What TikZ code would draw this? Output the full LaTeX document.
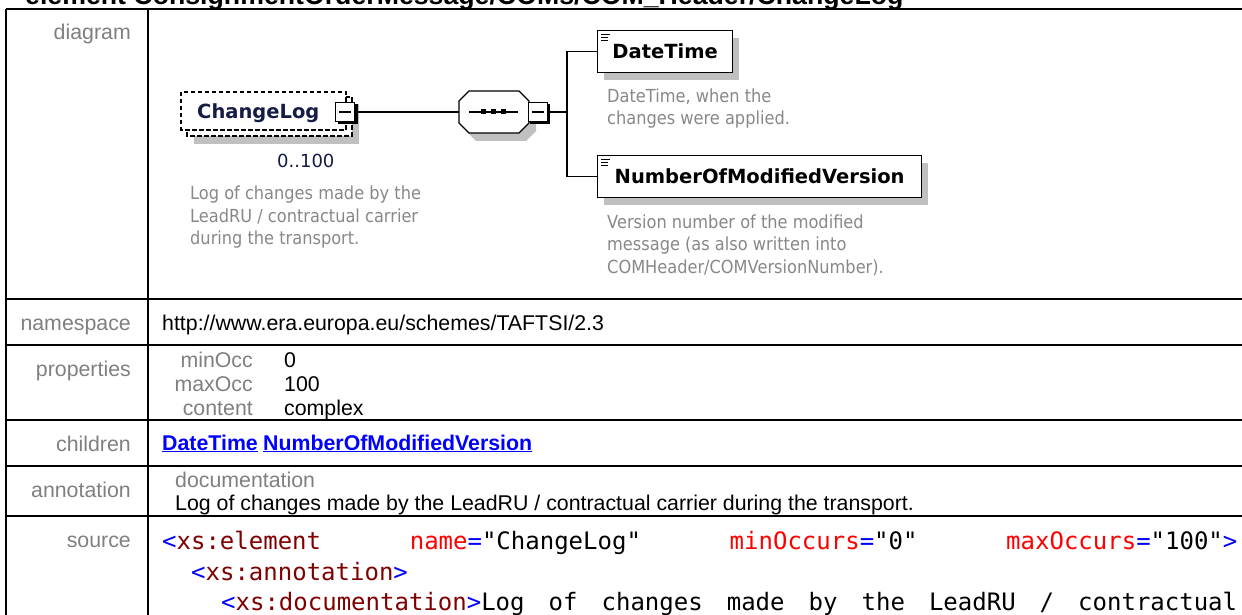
\documentclass[tikz,border=0pt]{standalone}
\usepackage{fontspec}
\setmainfont{Liberation Sans}
\newfontfamily\diagfont{DejaVu Sans}
\newfontfamily\descfont{DejaVu Sans}[FakeStretch=0.9]
\newfontfamily\codefont{DejaVu Sans Mono}
\usetikzlibrary{calc}
\definecolor{labelgray}{RGB}{128,128,128}
\definecolor{descgray}{RGB}{136,136,136}
\definecolor{shadowgray}{RGB}{192,192,192}
\definecolor{elemred}{RGB}{128,0,0}
\definecolor{attrred}{RGB}{255,0,0}
\definecolor{codeblue}{RGB}{0,0,255}
\definecolor{navyname}{RGB}{20,28,70}
\tikzset{
  tableline/.style={line width=2pt, black},
  rowlabel/.style={anchor=base east, inner sep=0pt, text=labelgray, font=\fontsize{21.33}{24}\selectfont},
  rowtext/.style={anchor=base west, inner sep=0pt, text=black, font=\fontsize{21.33}{24}\selectfont},
  linktext/.style={anchor=base west, inner sep=0pt, text=codeblue, font=\bfseries\fontsize{21.33}{24}\selectfont},
  codetext/.style={anchor=base west, inner sep=0pt, font=\codefont\fontsize{24}{28}\selectfont},
  desctext/.style={anchor=base west, inner sep=0pt, text=descgray, font=\descfont\fontsize{18}{22}\selectfont},
  elembox/.style={draw=black, line width=1.3pt, fill=white, anchor=north west, inner sep=0pt, text height=14pt, text depth=0pt, font=\diagfont\bfseries\fontsize{19.5}{23}\selectfont},
  minusbox/.style={draw=black, line width=1pt, fill=white, minimum size=19pt, inner sep=0pt},
  connector/.style={line width=1.3pt, black},
  dashedbox/.style={draw=black, line width=1.3pt, fill=white, dash pattern=on 4.5pt off 2.5pt},
  shadowfill/.style={fill=shadowgray, draw=none},
}
\begin{document}
\begin{tikzpicture}[x=1pt,y=-1pt]
\useasboundingbox (0,0) rectangle (1242,615);
\clip (0,0) rectangle (1242,615);
\fill[white] (0,0) rectangle (1242,615);

% heading (mostly cut off at the top)
\node[anchor=base west, inner sep=0pt, font=\bfseries\fontsize{26.7}{30}\selectfont] (heading) at (25,5) {element ConsignmentOrderMessage/COMs/COM\_Header/ChangeLog};

% table grid
\draw[tableline] (5.5,9.5) -- (1250,9.5);
\foreach \yy in {299,345,420,466,516} \draw[tableline] (5.5,\yy) -- (1250,\yy);
\draw[tableline] (5.5,9.5) -- (5.5,620);
\draw[tableline] (147.5,9.5) -- (147.5,620);

% row labels
\node[rowlabel] (ldiagram) at (131,40) {diagram};
\node[rowlabel] (lnamespace) at (131,330) {namespace};
\node[rowlabel] (lproperties) at (131,376) {properties};
\node[rowlabel] (lchildren) at (131,451) {children};
\node[rowlabel] (lannotation) at (131,497) {annotation};
\node[rowlabel] (lsource) at (131,547) {source};

% namespace
\node[rowtext] (nsval) at (162,330) {http://www.era.europa.eu/schemes/TAFTSI/2.3};

% properties
\node[rowlabel] (pk1) at (253,367) {minOcc};
\node[rowlabel] (pk2) at (253,391) {maxOcc};
\node[rowlabel] (pk3) at (253,415) {content};
\node[rowtext] (pv1) at (284,367) {0};
\node[rowtext] (pv2) at (284,391) {100};
\node[rowtext] (pv3) at (284,415) {complex};

% children
\node[linktext] (ch1) at (162,450) {\underline{DateTime}};
\node[linktext] (ch2) at (263,450) {\underline{NumberOfModifiedVersion}};

% annotation
\node[rowlabel, anchor=base west] (anndoc) at (175,487) {documentation};
\node[rowtext] (anntext) at (175,510) {Log of changes made by the LeadRU / contractual carrier during the transport.};

% source
\node[codetext] (s1a) at (162,549) {\textcolor{codeblue}{<}\textcolor{elemred}{xs:element}};
\node[codetext] (s1b) at (409.6,549) {\textcolor{attrred}{name}\textcolor{codeblue}{=}"ChangeLog"};
\node[codetext] (s1c) at (729.5,549) {\textcolor{attrred}{minOccurs}\textcolor{codeblue}{=}"0"};
\node[codetext] (s1d) at (1006,549) {\textcolor{attrred}{maxOccurs}\textcolor{codeblue}{=}"100"\textcolor{codeblue}{>}};
\node[codetext] (s2) at (191,580) {\textcolor{codeblue}{<}\textcolor{elemred}{xs:annotation}\textcolor{codeblue}{>}};
\node[codetext] (s3a) at (221,610) {\textcolor{codeblue}{<}\textcolor{elemred}{xs:documentation}\textcolor{codeblue}{>}Log};
\node[codetext] (s3b) at (548.5,610) {of};
\node[codetext] (s3c) at (601.4,610) {changes};
\node[codetext] (s3d) at (726.6,610) {made};
\node[codetext] (s3e) at (808.5,610) {by};
\node[codetext] (s3f) at (861.4,610) {the};
\node[codetext] (s3g) at (928.8,610) {LeadRU};
\node[codetext] (s3h) at (1039.5,610) {/};
\node[codetext] (s3i) at (1078,610) {contractual};

% ---------------- diagram ----------------
% ChangeLog element (optional, repeating)
\fill[shadowfill] (194,104) rectangle (359,144);
\draw[dashedbox] (187,97) rectangle (352,136);
\draw[dashedbox] (181,92) rectangle (346,130);
\node[inner sep=0pt, anchor=base west, text=navyname, font=\diagfont\bfseries\fontsize{19.5}{23}\selectfont] (clog) at (197,119) {ChangeLog};
\node[minusbox] (clogm) at (345,112) {};
\draw[line width=2.5pt] ($(clogm.north east)+(1.25,2.5)$) -- ($(clogm.south east)+(1.25,1.25)$) -- ($(clogm.south west)+(2.5,1.25)$);
\draw[line width=1.2pt] ($(clogm.west)+(4,0)$) -- ($(clogm.east)+(-4,0)$);
\node[inner sep=0pt, anchor=base west, text=navyname, font=\diagfont\fontsize{18}{22}\selectfont] (clogocc) at (277,167.5) {0..100};
\node[desctext] (clogd1) at (190,199) {Log of changes made by the};
\node[desctext] (clogd2) at (190,222) {LeadRU / contractual carrier};
\node[desctext] (clogd3) at (190,244) {during the transport.};

% sequence compositor
\fill[shadowfill] (476,99) -- (526,99) -- (536,109) -- (536,131) -- (526,141) -- (476,141) -- (466,131) -- (466,109) -- cycle;
\draw[line width=1.3pt, fill=white] (469,91) -- (519,91) -- (529,101) -- (529,123) -- (519,133) -- (469,133) -- (459,123) -- (459,101) -- cycle;
\node[minimum width=70pt, minimum height=42pt, inner sep=0pt] (seq) at (494,112) {};
\draw[line width=1.3pt] (469,112) -- (518,112);
\foreach \xx in {483,493,503} \fill (\xx-2.5,109.5) rectangle (\xx+2.5,114.5);
\node[minusbox] (seqm) at (537.5,112) {};
\draw[line width=2.5pt] ($(seqm.north east)+(1.25,2.5)$) -- ($(seqm.south east)+(1.25,1.25)$) -- ($(seqm.south west)+(2.5,1.25)$);
\draw[line width=1.2pt] ($(seqm.west)+(4,0)$) -- ($(seqm.east)+(-4,0)$);

% child elements
\fill[shadowfill] (604,38) rectangle (739,80);
\node[elembox, minimum width=135pt, minimum height=42pt] (dt) at (597,30) {DateTime};
\draw[line width=0.9pt] (601,34.5) -- (610,34.5) (601,37.5) -- (608,37.5) (601,40.5) -- (608,40.5);
\node[desctext] (dtd1) at (607,103) {DateTime, when the};
\node[desctext] (dtd2) at (607,125) {changes were applied.};

\fill[shadowfill] (604,163) rectangle (928,205);
\node[elembox, minimum width=324pt, minimum height=42pt] (nmv) at (597,155) {NumberOfModifiedVersion};
\draw[line width=0.9pt] (601,159.5) -- (610,159.5) (601,162.5) -- (608,162.5) (601,165.5) -- (608,165.5);
\node[desctext] (nmvd1) at (607,228) {Version number of the modified};
\node[desctext] (nmvd2) at (607,250) {message (as also written into};
\node[desctext] (nmvd3) at (607,273) {COMHeader/COMVersionNumber).};

% connectors
\coordinate (fork) at (567,112);
\draw[connector] (clogm.east) -- (seq.west);
\draw[connector] (seqm.east) -- (fork);
\draw[connector] (dt.west) -| (fork) |- (nmv.west);
\end{tikzpicture}
\end{document}
